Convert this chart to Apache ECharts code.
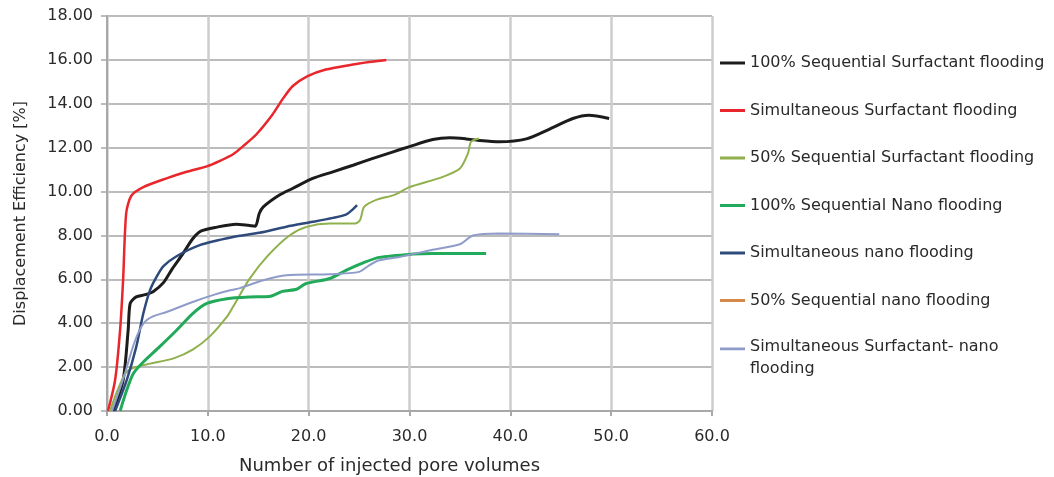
<!DOCTYPE html>
<html>
<head>
<meta charset="utf-8">
<style>
  html, body { margin: 0; padding: 0; background: #ffffff; }
  #chart { width: 1054px; height: 477px; }
</style>
<script src="https://cdn.jsdelivr.net/npm/echarts@6/dist/echarts.min.js"></script>
</head>
<body>
<div id="chart"></div>
<script>
// Displacement efficiency versus injected pore volumes, one curve per flooding scheme.
// Each curve is a list of [pore volumes, efficiency %] pairs.

const seriesNames = [
  '100% Sequential Surfactant flooding',
  'Simultaneous Surfactant flooding',
  '50% Sequential Surfactant flooding',
  '100% Sequential Nano flooding',
  'Simultaneous nano flooding',
  '50% Sequential nano flooding',
  'Simultaneous Surfactant- nano flooding'
];

const seqSurfactant100 = [
  [0.6, 0], [1.6, 1.4], [2.1, 3.7], [2.3, 4.9], [2.9, 5.2], [3.8, 5.3], [4.6, 5.45],
  [5.6, 5.85], [6.5, 6.5], [7.5, 7.15], [8.5, 7.85], [9.3, 8.2], [10.9, 8.38],
  [12.8, 8.51], [14.0, 8.46], [14.7, 8.42], [15.1, 9.0], [15.5, 9.3], [17.1, 9.84],
  [18.4, 10.14], [20.4, 10.6], [22.4, 10.9], [24.4, 11.2], [26.3, 11.5], [28.3, 11.8],
  [30.0, 12.05], [32.3, 12.37], [34.0, 12.45], [35.6, 12.4], [36.9, 12.33],
  [38.9, 12.27], [41.6, 12.4], [43.9, 12.85], [46.2, 13.33], [47.8, 13.48], [49.8, 13.33]
];

const simSurfactant = [
  [0.1, 0], [0.8, 1.4], [1.3, 3.7], [1.6, 6.0], [1.9, 9.0], [2.4, 9.8], [3.6, 10.2],
  [5.9, 10.6], [7.9, 10.9], [9.9, 11.15], [11.2, 11.4], [12.5, 11.7], [13.5, 12.07],
  [14.8, 12.6], [16.4, 13.5], [17.4, 14.2], [18.4, 14.8], [19.9, 15.26], [21.7, 15.56],
  [24.0, 15.76], [26.0, 15.9], [27.7, 16.0]
];

const seqSurfactant50 = [
  [0.3, 0], [1.0, 0.9], [1.8, 1.7], [2.5, 1.95], [4.3, 2.16], [6.6, 2.4], [8.5, 2.8],
  [10.2, 3.4], [11.9, 4.3], [12.5, 4.75], [14.1, 6.0], [16.0, 7.1], [18.1, 8.0],
  [19.8, 8.39], [22.1, 8.54], [24.6, 8.54], [25.1, 8.7], [25.5, 9.3], [26.7, 9.62],
  [28.5, 9.85], [30.0, 10.2], [33.3, 10.67], [35.0, 11.05], [35.8, 11.74], [36.1, 12.27],
  [36.9, 12.42]
];

const seqNano100 = [
  [1.3, 0], [1.95, 0.94], [2.6, 1.7], [3.6, 2.23], [5.2, 2.92], [6.9, 3.68], [8.5, 4.44],
  [9.9, 4.9], [11.9, 5.12], [14.1, 5.2], [16.1, 5.22], [17.4, 5.45], [18.8, 5.55],
  [19.7, 5.8], [22.1, 6.04], [23.7, 6.41], [25.4, 6.75], [27.0, 7.0], [30.3, 7.15],
  [32.3, 7.18], [37.6, 7.18]
];

const simNano = [
  [0.8, 0], [1.95, 1.4], [2.9, 2.92], [3.6, 4.44], [4.26, 5.5], [4.9, 6.1], [5.6, 6.6],
  [6.9, 7.05], [9.2, 7.56], [12.5, 7.93], [15.1, 8.12], [17.8, 8.4], [20.4, 8.62],
  [22.4, 8.8], [23.7, 8.95], [24.4, 9.2], [24.8, 9.38]
];

const seqNano50 = [];

const simSurfactantNano = [
  [0.5, 0], [1.7, 1.6], [2.7, 3.1], [3.6, 3.98], [4.5, 4.3], [5.9, 4.51], [8.5, 4.97],
  [10.5, 5.28], [12.2, 5.5], [13.2, 5.6], [15.5, 5.96], [17.8, 6.19], [22.1, 6.23],
  [25.0, 6.34], [26.0, 6.64], [27.0, 6.87], [29.0, 7.02], [32.3, 7.35], [35.0, 7.6],
  [36.3, 8.0], [38.9, 8.09], [44.85, 8.06]
];

const curves = [seqSurfactant100, simSurfactant, seqSurfactant50, seqNano100, simNano, seqNano50, simSurfactantNano];
const colors = ['#1c1c1c', '#e8262b', '#8fb04c', '#22aa5a', '#2e4a7a', '#d4894a', '#8f9bc9'];
const widths = [3, 2.5, 2, 3, 2.5, 2, 2];

const FONT = 'DejaVu Sans';
const TEXT = '#2a2a2a';

const chart = echarts.init(document.getElementById('chart'), null, { renderer: 'canvas' });

const legendText = { fontFamily: FONT, fontSize: 16, color: TEXT, lineHeight: 20 };

const legendBase = {
  orient: 'vertical',
  left: 720,
  padding: 0,
  icon: 'rect',
  itemWidth: 25,
  itemHeight: 3,
  itemGap: 27.5,
  selectedMode: false
};

// The two-line entry gets its own legend so its marker sits beside the first text line.
chart.setOption({
  animation: false,
  backgroundColor: '#ffffff',
  grid: { left: 107, right: 342, top: 16, bottom: 66, containLabel: false, outerBoundsMode: 'none' },
  legend: [
    Object.assign({}, legendBase, { top: 53, textStyle: legendText, data: seriesNames.slice(0, 6) }),
    Object.assign({}, legendBase, {
      top: 336,
      icon: 'path://M0,0 H26 V3 H0 Z M0,22 L0.01,22',
      itemHeight: 22,
      textStyle: Object.assign({}, legendText, { lineHeight: 22 }),
      data: [seriesNames[6]],
      formatter: function () { return 'Simultaneous Surfactant- nano\nflooding'; }
    })
  ],
  xAxis: {
    type: 'value',
    min: 0, max: 60, interval: 10,
    name: 'Number of injected pore volumes',
    nameLocation: 'middle',
    nameGap: 46,
    nameTextStyle: { fontFamily: FONT, fontSize: 18, color: TEXT, padding: [0, 40, 0, 0] },
    axisLine: { show: true, onZero: false, lineStyle: { color: '#a8a8a8', width: 2 } },
    axisTick: { show: true, length: 5, lineStyle: { color: '#a8a8a8', width: 2 } },
    axisLabel: { fontFamily: FONT, fontSize: 16, color: TEXT, margin: 18, formatter: v => v.toFixed(1) },
    splitLine: { show: true, lineStyle: { color: '#cdcdcd', width: 2.5 } }
  },
  yAxis: {
    type: 'value',
    min: 0, max: 18, interval: 2,
    name: 'Displacement Efficiency [%]',
    nameLocation: 'middle',
    nameGap: 78,
    nameTextStyle: { fontFamily: FONT, fontSize: 16, color: TEXT },
    axisLine: { show: true, lineStyle: { color: '#a8a8a8', width: 2 } },
    axisTick: { show: true, length: 6, lineStyle: { color: '#a8a8a8', width: 1.5 } },
    axisLabel: { fontFamily: FONT, fontSize: 16, color: TEXT, margin: 14, formatter: v => v.toFixed(2) },
    splitLine: { show: true, lineStyle: { color: '#a4a4a4', width: 1.6 } }
  },
  series: seriesNames.map((name, i) => ({
    name: name,
    type: 'line',
    data: curves[i],
    symbol: 'none',
    smooth: 0.25,
    color: colors[i],
    itemStyle: { color: colors[i] },
    lineStyle: { color: colors[i], width: widths[i] },
    emphasis: { disabled: true }
  }))
});
</script>
</body>
</html>
